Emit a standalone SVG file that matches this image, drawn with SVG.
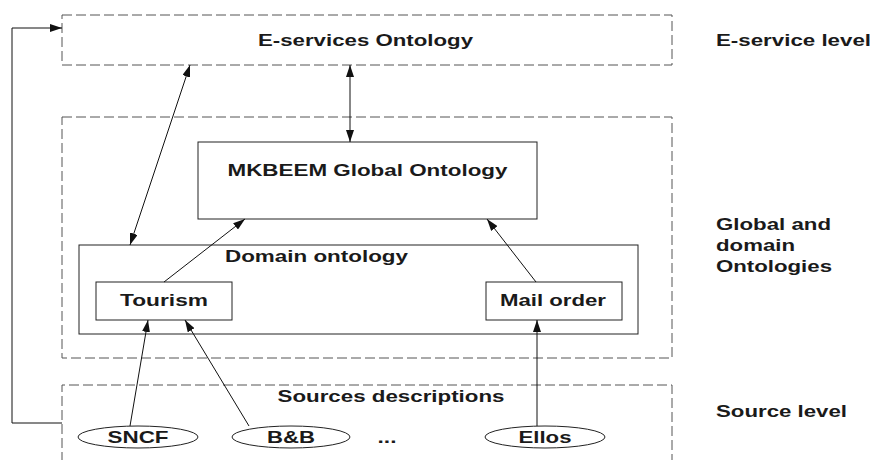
<svg xmlns="http://www.w3.org/2000/svg" width="882" height="460" viewBox="0 0 882 460">
<defs>
<marker id="ah" viewBox="0 0 12 8" refX="12" refY="4" markerWidth="12" markerHeight="8" markerUnits="userSpaceOnUse" orient="auto-start-reverse">
<path d="M0,0 L12,4 L0,8 Z" fill="#111"/>
</marker>
<style>
.dash{fill:none;stroke:#555;stroke-width:1;stroke-dasharray:10,4}
.box{fill:#fff;stroke:#222;stroke-width:1}
.t{font-family:"Liberation Sans",Arial,sans-serif;font-weight:bold;font-size:17px;fill:#1a1a1a}
.m{text-anchor:middle}
.c{fill:none;stroke:#111;stroke-width:1}
</style>
</defs>
<rect width="882" height="460" fill="#fff"/>
<g id="eservices">
<rect class="dash" x="62" y="15" width="610" height="50"/>
<text class="t m" x="365.5" y="46" textLength="215" lengthAdjust="spacingAndGlyphs">E-services Ontology</text>
</g>
<g id="global-level">
<rect class="dash" x="62" y="117" width="610" height="241"/>
</g>
<g id="sources-level">
<path class="dash" d="M62,462 V385 H672 V462"/>
<text class="t m" x="391" y="402" textLength="227" lengthAdjust="spacingAndGlyphs">Sources descriptions</text>
</g>
<g id="mkbeem">
<rect class="box" x="198" y="142" width="339" height="77"/>
<text class="t m" x="367.5" y="176" textLength="280" lengthAdjust="spacingAndGlyphs">MKBEEM Global Ontology</text>
</g>
<g id="domain">
<rect class="box" x="79" y="245" width="559" height="89"/>
<text class="t m" x="316.5" y="262" textLength="183" lengthAdjust="spacingAndGlyphs">Domain ontology</text>
</g>
<g id="tourism">
<rect class="box" x="96" y="282" width="136" height="38"/>
<text class="t m" x="164" y="306" textLength="88" lengthAdjust="spacingAndGlyphs">Tourism</text>
</g>
<g id="mailorder">
<rect class="box" x="486" y="282" width="136" height="38"/>
<text class="t m" x="553" y="306" textLength="106" lengthAdjust="spacingAndGlyphs">Mail order</text>
</g>
<g id="sncf">
<ellipse class="box" cx="138" cy="437" rx="60" ry="11"/>
<text class="t m" x="138" y="443" textLength="61" lengthAdjust="spacingAndGlyphs">SNCF</text>
</g>
<g id="bb">
<ellipse class="box" cx="291" cy="437" rx="59" ry="11"/>
<text class="t m" x="291" y="443" textLength="48" lengthAdjust="spacingAndGlyphs">B&amp;B</text>
</g>
<g id="dots">
<text class="t m" x="387" y="443" textLength="19" lengthAdjust="spacingAndGlyphs">...</text>
</g>
<g id="ellos">
<ellipse class="box" cx="545" cy="437" rx="60" ry="11"/>
<text class="t m" x="545" y="443" textLength="53" lengthAdjust="spacingAndGlyphs">Ellos</text>
</g>
<g id="labels">
<text class="t" x="716" y="46" textLength="155" lengthAdjust="spacingAndGlyphs">E-service level</text>
<text class="t" x="716" y="230" textLength="115" lengthAdjust="spacingAndGlyphs">Global and</text>
<text class="t" x="716" y="251" textLength="79" lengthAdjust="spacingAndGlyphs">domain</text>
<text class="t" x="716" y="272" textLength="116" lengthAdjust="spacingAndGlyphs">Ontologies</text>
<text class="t" x="716" y="417" textLength="131" lengthAdjust="spacingAndGlyphs">Source level</text>
</g>
<g id="connectors">
<path class="c" d="M62,423 H12 V28 H62" marker-end="url(#ah)"/>
<line class="c" x1="190" y1="65" x2="130" y2="245" marker-start="url(#ah)" marker-end="url(#ah)"/>
<line class="c" x1="350" y1="65" x2="350" y2="142" marker-start="url(#ah)" marker-end="url(#ah)"/>
<line class="c" x1="164" y1="282" x2="245" y2="219" marker-end="url(#ah)"/>
<line class="c" x1="536" y1="282" x2="487" y2="219" marker-end="url(#ah)"/>
<line class="c" x1="130" y1="426" x2="148" y2="320" marker-end="url(#ah)"/>
<line class="c" x1="249" y1="426" x2="185" y2="320" marker-end="url(#ah)"/>
<line class="c" x1="537" y1="426" x2="537" y2="320" marker-end="url(#ah)"/>
</g>
</svg>
